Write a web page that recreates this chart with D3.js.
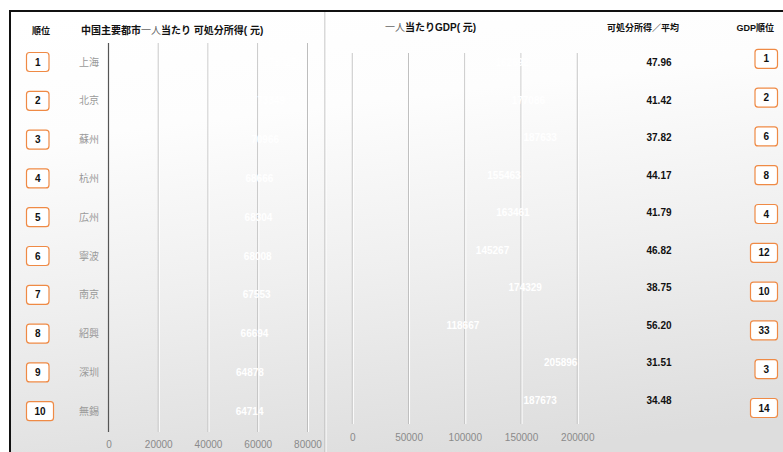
<!DOCTYPE html>
<html>
<head>
<meta charset="utf-8">
<script src="https://cdn.jsdelivr.net/npm/d3@7"></script>
<style>
  html, body { margin: 0; padding: 0; background: #ffffff; }
  svg { display: block; }
  text { font-family: "Liberation Sans", "Noto Sans CJK JP", sans-serif; }
  .cjk { font-family: "Noto Sans CJK JP", "Liberation Sans", sans-serif; }
</style>
</head>
<body>
<svg id="chart" width="783" height="452"></svg>
<script>
// City order (ranked by disposable income per person)
const cities = ["上海", "北京", "蘇州", "杭州", "広州", "寧波", "南京", "紹興", "深圳", "無錫"];
const incomeRank = [1, 2, 3, 4, 5, 6, 7, 8, 9, 10];
// Disposable income per person (yuan)
const income = [78027, 73349, 70966, 68666, 68304, 68008, 67553, 66694, 64878, 64714];
// GDP per person (yuan)
const gdpPerPerson = [162692, 177086, 187633, 155463, 163461, 145267, 174329, 118667, 205896, 187673];
// Income as a share of GDP per person (%)
const incomeShare = ["47.96", "41.42", "37.82", "44.17", "41.79", "46.82", "38.75", "56.20", "31.51", "34.48"];
// Rank of total GDP
const gdpRank = [1, 2, 6, 8, 4, 12, 10, 33, 3, 14];
// Axis ticks
const incomeTicks = [0, 20000, 40000, 60000, 80000];
const gdpTicks = [0, 50000, 100000, 150000, 200000];

const svg = d3.select("#chart");
const W = 783, H = 452;

// Soft grey backdrop, near white at the top
const defs = svg.append("defs");
const grad = defs.append("linearGradient")
  .attr("id", "bg").attr("x1", 0.1).attr("y1", 0).attr("x2", 0.3).attr("y2", 1);
grad.append("stop").attr("offset", "0%").attr("stop-color", "#ffffff");
grad.append("stop").attr("offset", "25%").attr("stop-color", "#fdfdfd");
grad.append("stop").attr("offset", "60%").attr("stop-color", "#efefef");
grad.append("stop").attr("offset", "100%").attr("stop-color", "#dddddd");

svg.append("rect").attr("x", 10).attr("y", 11).attr("width", W + 20).attr("height", H + 20)
  .attr("fill", "url(#bg)").attr("stroke", "#111").attr("stroke-width", 2);

const rows = d3.range(cities.length);

// Row positions: left panel and right panel use slightly different spacing
const yLeft = d3.scaleBand().domain(rows).range([42.6, 430.6]);
const yRight = d3.scaleBand().domain(rows).range([43.8, 418.8]);
const yRankR = d3.scaleBand().domain(rows).range([39.4, 427.4]);

const xIncome = d3.scaleLinear().domain([0, 80000]).range([108.5, 307.5]);
const xGdp = d3.scaleLinear().domain([0, 200000]).range([352.3, 577.3]);

// Panel divider
svg.append("line").attr("x1", 325).attr("x2", 325).attr("y1", 12).attr("y2", H)
  .attr("stroke", "#b4b4b4").attr("stroke-width", 1);
svg.append("line").attr("x1", 326).attr("x2", 326).attr("y1", 12).attr("y2", H)
  .attr("stroke", "#ffffff").attr("stroke-width", 1);

// Embossed grid lines
function grid(scale, ticks, y1, y2, skipZero) {
  const g = svg.append("g");
  const vals = ticks.filter(t => !(skipZero && t === 0));
  g.selectAll("line.dark").data(vals).join("line")
    .attr("x1", d => scale(d)).attr("x2", d => scale(d))
    .attr("y1", y1).attr("y2", y2)
    .attr("stroke", "#bdbdbd").attr("stroke-width", 1);
  g.selectAll("line.light").data(vals).join("line")
    .attr("x1", d => scale(d) + 1).attr("x2", d => scale(d) + 1)
    .attr("y1", y1).attr("y2", y2)
    .attr("stroke", "#ffffff").attr("stroke-width", 1);
}
grid(xIncome, incomeTicks, 43, 432, true);
grid(xGdp, gdpTicks, 53, 424, false);

// Income axis baseline
svg.append("line").attr("x1", xIncome(0)).attr("x2", xIncome(0)).attr("y1", 43).attr("y2", 432)
  .attr("stroke", "#555").attr("stroke-width", 1.2);

// Tick labels through d3 axes
function axis(scale, ticks, y) {
  const g = svg.append("g").attr("transform", `translate(0,${y})`)
    .call(d3.axisBottom(scale).tickValues(ticks).tickSize(0).tickPadding(0).tickFormat(d3.format("d")));
  g.select(".domain").remove();
  g.selectAll("text").attr("fill", "#8a8a8a").attr("font-size", "10px")
    .attr("font-family", "Liberation Sans, sans-serif").attr("dy", "0").attr("y", 0);
}
axis(xIncome, incomeTicks, 448);
axis(xGdp, gdpTicks, 441);

// Headers
const head = svg.append("g").attr("class", "cjk").attr("font-weight", "bold").attr("fill", "#111");
head.append("text").attr("x", 41).attr("y", 34).attr("text-anchor", "middle").attr("font-size", "9px").text("順位");
const t1 = head.append("text").attr("x", 81).attr("y", 34).attr("font-size", "10px");
t1.append("tspan").text("中国主要都市");
t1.append("tspan").attr("font-weight", "normal").attr("fill", "#666").text("一人");
t1.append("tspan").text("当たり 可処分所得( 元)");
const t2 = head.append("text").attr("x", 385).attr("y", 31).attr("font-size", "10px");
t2.append("tspan").attr("font-weight", "normal").attr("fill", "#666").text("一人");
t2.append("tspan").text("当たりGDP( 元)");
head.append("text").attr("x", 607).attr("y", 31).attr("font-size", "9px").text("可処分所得／平均");
head.append("text").attr("x", 774).attr("y", 31).attr("text-anchor", "end").attr("font-size", "9px").text("GDP順位");

// Rank badges
function badges(values, xFn, yScale, alignRight) {
  const g = svg.append("g").selectAll("g").data(rows).join("g");
  const w = i => String(values[i]).length > 1 ? 27 : 22.5;
  g.append("rect")
    .attr("x", i => alignRight ? xFn - w(i) : xFn)
    .attr("y", i => yScale(i) + yScale.bandwidth() / 2 - 9.5)
    .attr("width", w).attr("height", 19).attr("rx", 3)
    .attr("fill", "#ffffff").attr("stroke", "#ef8a45").attr("stroke-width", 1.2);
  g.append("text")
    .attr("x", i => alignRight ? xFn - w(i) / 2 : xFn + w(i) / 2)
    .attr("y", i => yScale(i) + yScale.bandwidth() / 2 + 3.6)
    .attr("text-anchor", "middle").attr("font-size", "10px").attr("font-weight", "bold")
    .attr("fill", "#111").text(i => values[i]);
}
badges(incomeRank, 26.5, yLeft, false);
badges(gdpRank, 777.5, yRankR, true);

// City names
svg.append("g").selectAll("text").data(rows).join("text")
  .attr("class", "cjk")
  .attr("x", 99).attr("y", i => yLeft(i) + yLeft.bandwidth() / 2 + 3.5)
  .attr("text-anchor", "end").attr("font-size", "10px").attr("fill", "#9a9a9a")
  .text(i => cities[i]);

// Income bars (clear fill) and white value labels
const barH = 16;
svg.append("g").selectAll("rect").data(rows).join("rect")
  .attr("x", xIncome(0)).attr("y", i => yLeft(i) + yLeft.bandwidth() / 2 - barH / 2)
  .attr("width", i => xIncome(income[i]) - xIncome(0)).attr("height", barH)
  .attr("fill", "#ffffff").attr("fill-opacity", 0);
svg.append("g").selectAll("text").data(rows).join("text")
  .attr("x", i => xIncome(income[i]) - 6)
  .attr("y", i => yLeft(i) + yLeft.bandwidth() / 2 + 3.6)
  .attr("text-anchor", "end").attr("font-size", "10px").attr("font-weight", "bold")
  .attr("fill", "#ffffff").text(i => income[i]);

// GDP bars (clear fill) and white value labels
svg.append("g").selectAll("rect").data(rows).join("rect")
  .attr("x", xGdp(0)).attr("y", i => yRight(i) + yRight.bandwidth() / 2 - barH / 2)
  .attr("width", i => xGdp(gdpPerPerson[i]) - xGdp(0)).attr("height", barH)
  .attr("fill", "#ffffff").attr("fill-opacity", 0);
svg.append("g").selectAll("text").data(rows).join("text")
  .attr("x", i => xGdp(gdpPerPerson[i]) - 6.5)
  .attr("y", i => yRight(i) + yRight.bandwidth() / 2 + 3.6)
  .attr("text-anchor", "end").attr("font-size", "10px").attr("font-weight", "bold")
  .attr("fill", "#ffffff").text(i => gdpPerPerson[i]);

// Share column
svg.append("g").selectAll("text").data(rows).join("text")
  .attr("x", 659).attr("y", i => yRight(i) + yRight.bandwidth() / 2 + 3.6)
  .attr("text-anchor", "middle").attr("font-size", "10px").attr("font-weight", "bold")
  .attr("fill", "#111").text(i => incomeShare[i]);
</script>
</body>
</html>
